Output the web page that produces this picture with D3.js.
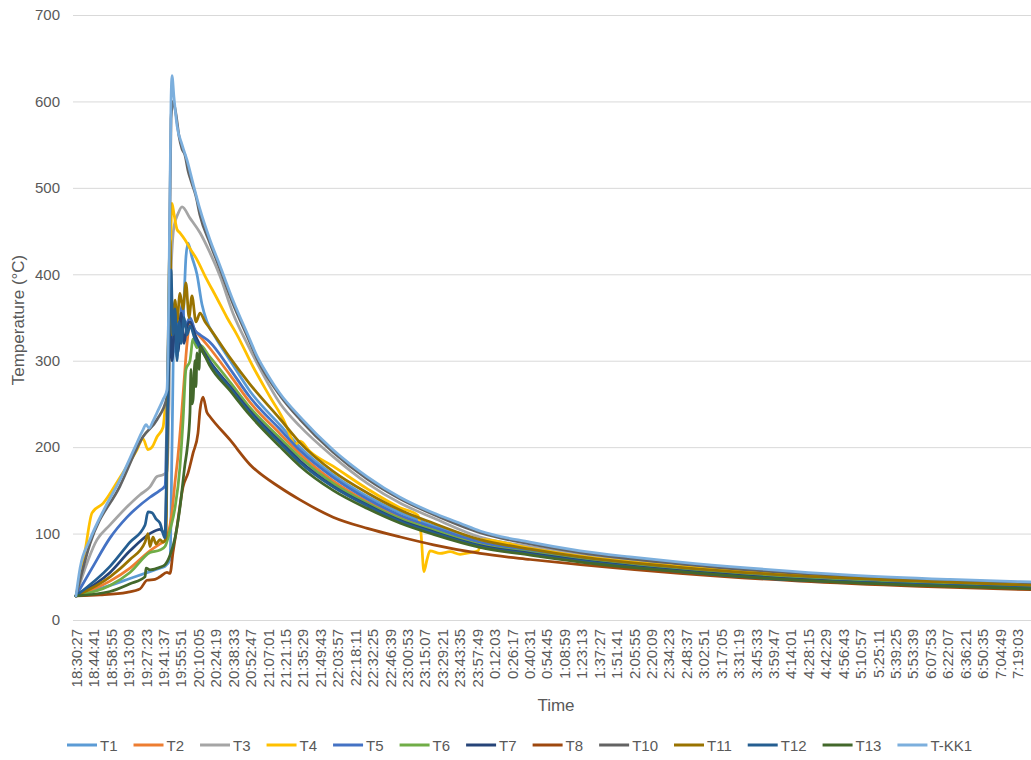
<!DOCTYPE html>
<html>
<head>
<meta charset="utf-8">
<script src="https://cdn.jsdelivr.net/npm/d3@7"></script>
<style>
body { margin: 0; background: #fff; }
text { font-family: "Liberation Sans", Arial, sans-serif; fill: #595959; }
</style>
</head>
<body>
<script>
let tickLabels = ["18:30:27","18:44:41","18:58:55","19:13:09","19:27:23","19:41:37","19:55:51","20:10:05","20:24:19","20:38:33","20:52:47","21:07:01","21:21:15","21:35:29","21:49:43","22:03:57","22:18:11","22:32:25","22:46:39","23:00:53","23:15:07","23:29:21","23:43:35","23:57:49","0:12:03","0:26:17","0:40:31","0:54:45","1:08:59","1:23:13","1:37:27","1:51:41","2:05:55","2:20:09","2:34:23","2:48:37","3:02:51","3:17:05","3:31:19","3:45:33","3:59:47","4:14:01","4:28:15","4:42:29","4:56:43","5:10:57","5:25:11","5:39:25","5:53:39","6:07:53","6:22:07","6:36:21","6:50:35","7:04:49","7:19:03"]
let yTicks = [0,100,200,300,400,500,600,700]

// [minutes after 18:30:27, temperature °C]
let T1 = [[0,28],[27.8,40],[44.1,48],[60.4,56],[68.6,60],[72.7,62],[76.8,70],[78.4,200],[80.0,330],[82.5,305],[84.9,340],[87.4,350],[89.8,420],[91.5,436],[94.7,420],[98.8,400],[102.9,365],[107.0,345],[113.5,328],[126,300],[142,265],[167,225],[183,200],[210,168],[238,143],[265,124],[292,109],[330,91],[371,81],[412,73],[493,61],[591,50],[689,44],[780,40]]
let T2 = [[0,28],[27.8,45],[44.1,60],[60.4,80],[68.6,88],[72.7,92],[76.8,110],[78.4,125],[80.9,160],[83.3,190],[85.8,230],[88.2,275],[90.7,320],[93.1,345],[97.2,335],[101.3,328],[109,315],[126,283],[142,252],[167,215],[183,192],[210,161],[238,137],[265,119],[292,105],[330,88],[371,79],[412,71],[493,59],[591,48],[689,42],[780,38]]
let T3 = [[0,28],[17.2,93],[27.8,110],[41.7,131],[52.3,145],[60.4,154],[66.2,166],[71.1,168],[74.3,172],[76.0,250],[77.6,400],[80.0,455],[83.3,470],[86.6,478],[93.1,465],[101.3,448],[109.4,425],[117.6,398],[128.2,355],[139.7,320],[148.7,295],[167,250],[183,224],[210,189],[238,158],[265,135],[292,118],[330,96],[371,85],[412,76],[493,64],[591,53],[689,46],[780,42]]
let T4 = [[0,28],[7.4,80],[13.1,124],[22.1,135],[35.9,165],[49.8,197],[54.7,210],[58.8,197],[62.1,200],[66.2,212],[71.1,223],[72.7,243],[75.1,260],[76.8,400],[78.4,482],[80.0,470],[82.5,452],[84.9,448],[89.0,440],[93.1,430],[98.8,417],[105.4,398],[115.2,372],[123.3,350],[131.5,330],[144.6,293],[158.5,258],[170.7,228],[174.8,214],[178.9,203],[183.0,207],[191.1,195],[209.9,178],[237.7,152],[264.6,130],[279.3,121],[281.8,100],[284.2,56],[286.7,70],[289.1,80],[297.3,77],[305.5,79],[313.7,76],[321.8,78],[328.4,80],[331.6,93],[370.8,83],[411.7,74],[493.3,62],[591.4,52],[689.4,45],[780,41]]
let T5 = [[0,28],[13.1,60],[27.8,95],[41.7,119],[60.4,142],[68.6,150],[72.7,155],[75.1,300],[76.8,370],[79.2,320],[81.7,360],[84.1,330],[86.6,365],[89.0,340],[93.1,350],[97.2,335],[101.3,330],[109,322],[126,290],[142,258],[167,220],[183,196],[210,165],[238,140],[265,121],[292,107],[330,90],[371,80],[412,72],[493,60],[591,49],[689,43],[780,39]]
let T6 = [[0,28],[27.8,40],[44.1,55],[60.4,78],[68.6,81],[72.7,85],[76.8,104],[80.9,130],[84.9,177],[87.4,230],[89.8,290],[93.1,300],[95.6,325],[98.8,315],[101.3,318],[109,305],[126,275],[142,246],[167,210],[183,188],[210,158],[238,135],[265,117],[292,104],[330,87],[371,78],[412,70],[493,58],[591,48],[689,42],[780,38]]
let T7 = [[0,28],[27.8,55],[44.1,80],[60.4,100],[68.6,105],[72.7,100],[75.1,250],[76.8,340],[78.4,300],[80.9,345],[83.3,310],[85.8,355],[88.2,320],[90.7,340],[93.1,345],[97.2,330],[101.3,318],[109,300],[126,270],[142,242],[167,206],[183,184],[210,155],[238,133],[265,115],[292,102],[330,86],[371,77],[412,69],[493,57],[591,47],[689,41],[780,37]]
let T8 = [[0,28],[19.6,29],[41.7,32],[52.3,36],[58.0,46],[64.5,47],[68.6,50],[74.3,55],[76.8,54],[79.2,78],[82.5,108],[87.4,154],[91.5,170],[95.6,193],[99.6,216],[101.3,243],[103.7,258],[107.0,240],[109,236],[126,208],[142,180],[167,153],[183,139],[210,119],[238,106],[265,96],[292,87],[330,77],[371,70],[412,64],[493,54],[591,45],[689,39],[780,35]]
let T10 = [[0,28],[11.4,88],[35.9,155],[54.7,212],[66.2,232],[74.3,258],[76.0,380],[77.6,580],[79.2,600],[81.7,585],[84.1,560],[86.6,545],[89.0,538],[91.5,520],[94.7,505],[98.0,490],[101.3,468],[109.4,436],[117.6,406],[128.2,366],[139.7,329],[148.7,300],[167,259],[183,232],[210,194],[238,163],[265,140],[292,122],[330,101],[371,88],[412,78],[493,65],[591,54],[689,47],[780,43]]
let T11 = [[0,28],[27.8,50],[44.1,70],[56.4,90],[58.8,100],[60.4,85],[62.9,96],[65.3,88],[68.6,93],[71.1,90],[73.5,95],[75.1,300],[76.8,440],[78.4,330],[80.9,370],[82.5,345],[84.9,378],[87.4,360],[89.8,390],[92.3,350],[94.7,375],[98.0,345],[101.3,355],[105.4,345],[109,338],[126,303],[142,273],[167,232],[183,205],[210,172],[238,147],[265,127],[292,112],[330,93],[371,82],[412,73],[493,61],[591,51],[689,45],[780,40]]
let T12 = [[0,28],[27.8,62],[44.1,90],[56.4,110],[58.8,125],[62.1,124],[65.3,117],[68.6,112],[71.1,100],[72.7,95],[74.3,200],[76.0,330],[77.6,405],[79.2,330],[80.9,360],[82.5,300],[84.1,345],[85.8,320],[88.2,350],[90.7,330],[93.1,340],[97.2,325],[101.3,315],[109,298],[126,268],[142,240],[167,204],[183,182],[210,154],[238,132],[265,114],[292,101],[330,85],[371,76],[412,68],[493,56],[591,46],[689,41],[780,37]]
let T13 = [[0,28],[27.8,33],[44.1,42],[56.4,50],[57.2,60],[60.4,58],[68.6,61],[72.7,64],[76.8,75],[80.9,95],[84.9,130],[89.0,180],[90.7,197],[93.1,240],[93.9,290],[94.7,250],[95.6,255],[97.2,300],[98.0,270],[98.8,309],[100.5,290],[101.3,316],[103.7,310],[109,295],[126,265],[142,237],[167,200],[183,178],[210,150],[238,129],[265,112],[292,99],[330,84],[371,75],[412,67],[493,56],[591,46],[689,40],[780,36]]
let TKK1 = [[0,28],[3.3,60],[11.4,93],[23.7,130],[35.9,162],[48.2,200],[54.7,220],[57.2,226],[59.6,222],[62.9,230],[66.2,240],[71.1,255],[74.3,266],[76.0,400],[77.6,600],[78.4,630],[80.0,605],[82.5,572],[86.6,550],[90.7,532],[95.6,505],[101.3,475],[109.4,440],[117.6,410],[128.2,370],[139.7,332],[148.7,303],[156.0,285],[166.6,262],[183.0,235],[209.9,197],[237.7,166],[264.6,142],[291.6,124],[313.7,112],[330.0,103],[370.8,90],[411.7,80],[452.5,73],[493.3,67],[550.5,60],[632.2,52],[713.8,47],[780,44]]

let seriesNames = ["T1","T2","T3","T4","T5","T6","T7","T8","T10","T11","T12","T13","T-KK1"]
let seriesData = [T1,T2,T3,T4,T5,T6,T7,T8,T10,T11,T12,T13,TKK1]
let seriesColors = ["#5B9BD5","#ED7D31","#A5A5A5","#FFC000","#4472C4","#70AD47","#264478","#9E480E","#636363","#997300","#255E91","#43682B","#7CAFDD"]

let w = 1031
let h = 760
let left = 73
let svg
let xScale
let yScale

let toMinutes = (label)=>{
  let [hh, mm, ss] = label.split(":").map(Number)
  if (hh < 18) hh += 24
  return (hh*3600 + mm*60 + ss - (18*3600 + 30*60 + 27)) / 60
}

let generateCanvas = ()=>{
  svg = d3.select("body").append("svg")
    .attr("width", w)
    .attr("height", h)
  svg.append("rect").attr("width", w).attr("height", h).attr("fill", "#fff")
}

let generateScales = ()=>{
  xScale = d3.scaleLinear().domain([0, 780]).range([76, 1031])
  yScale = d3.scaleLinear().domain([0, 700]).range([620, 15])
}

let generateAxes = ()=>{
  let yAxis = d3.axisLeft(yScale)
    .tickValues(yTicks)
    .tickSize(-(w - left))
    .tickPadding(13)
  let gy = svg.append("g")
    .attr("transform", "translate(" + left + ",0)")
    .call(yAxis)
  gy.select(".domain").remove()
  gy.selectAll("line").attr("stroke", "#D9D9D9").attr("stroke-width", 1)
  gy.selectAll("text").style("font-size", "15px").attr("fill", "#595959")

  let xAxis = d3.axisBottom(xScale)
    .tickValues(tickLabels.map(toMinutes))
    .tickFormat((d, i)=>tickLabels[i])
    .tickSize(0)
  let gx = svg.append("g")
    .attr("transform", "translate(0,620)")
    .call(xAxis)
  gx.select(".domain").remove()
  gx.selectAll("text")
    .style("font-size", "15px")
    .attr("fill", "#595959")
    .attr("transform", "rotate(-90)")
    .attr("text-anchor", "end")
    .attr("x", -9)
    .attr("y", 0)
    .attr("dy", "0.36em")

  svg.append("text")
    .text("Time")
    .attr("x", 556)
    .attr("y", 711)
    .attr("text-anchor", "middle")
    .style("font-size", "17px")

  svg.append("text")
    .text("Temperature (°C)")
    .attr("transform", "translate(24,320) rotate(-90)")
    .attr("text-anchor", "middle")
    .style("font-size", "17px")
}

let drawLines = ()=>{
  let line = d3.line()
    .x(d=>xScale(d[0]))
    .y(d=>yScale(d[1]))
    .curve(d3.curveMonotoneX)

  svg.append("g").selectAll("path")
    .data(seriesData)
    .enter()
    .append("path")
    .attr("d", line)
    .attr("fill", "none")
    .attr("stroke", (d, i)=>seriesColors[i])
    .attr("stroke-width", 2.75)
    .attr("stroke-linejoin", "round")
    .attr("stroke-linecap", "round")
}

let drawLegend = ()=>{
  let x = 67
  let y = 745
  seriesNames.forEach((name, i)=>{
    svg.append("line")
      .attr("x1", x).attr("x2", x + 30)
      .attr("y1", y).attr("y2", y)
      .attr("stroke", seriesColors[i])
      .attr("stroke-width", 3)
    let t = svg.append("text")
      .text(name)
      .attr("x", x + 33)
      .attr("y", y + 5.5)
      .style("font-size", "15px")
    x += 33 + t.node().getComputedTextLength() + 16
  })
}

generateCanvas()
generateScales()
generateAxes()
drawLines()
drawLegend()
</script>
</body>
</html>
